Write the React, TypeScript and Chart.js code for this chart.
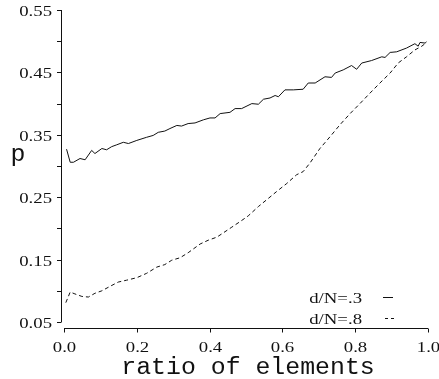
import React, { useEffect, useRef } from "react";
import { Chart, registerables } from "chart.js";

Chart.register(...registerables);

const seriesLabels = ["d/N=.3", "d/N=.8"];

const solidX = [0.007, 0.017, 0.026, 0.044, 0.058, 0.076, 0.085, 0.104, 0.117, 0.131, 0.145, 0.163, 0.177, 0.2, 0.227, 0.245, 0.259, 0.277, 0.291, 0.31, 0.323, 0.341, 0.36, 0.383, 0.401, 0.415, 0.429, 0.456, 0.47, 0.488, 0.516, 0.534, 0.548, 0.566, 0.58, 0.589, 0.607, 0.63, 0.657, 0.671, 0.69, 0.717, 0.735, 0.745, 0.767, 0.79, 0.804, 0.818, 0.845, 0.873, 0.882, 0.896, 0.914, 0.941, 0.964, 0.973, 0.978, 0.992, 0.996];
const solidY = [0.327, 0.306, 0.306, 0.312, 0.31, 0.325, 0.32, 0.328, 0.326, 0.331, 0.334, 0.338, 0.336, 0.341, 0.346, 0.349, 0.354, 0.356, 0.36, 0.365, 0.364, 0.368, 0.369, 0.374, 0.377, 0.377, 0.384, 0.386, 0.392, 0.392, 0.4, 0.399, 0.407, 0.409, 0.413, 0.411, 0.422, 0.422, 0.423, 0.433, 0.433, 0.443, 0.442, 0.449, 0.454, 0.461, 0.455, 0.465, 0.469, 0.475, 0.474, 0.482, 0.483, 0.489, 0.496, 0.492, 0.498, 0.497, 0.499];

const dashedX = [0.005, 0.017, 0.03, 0.049, 0.067, 0.085, 0.104, 0.126, 0.149, 0.172, 0.2, 0.227, 0.255, 0.277, 0.296, 0.319, 0.341, 0.374, 0.396, 0.42, 0.438, 0.461, 0.484, 0.506, 0.534, 0.557, 0.584, 0.612, 0.639, 0.657, 0.676, 0.703, 0.731, 0.758, 0.786, 0.813, 0.841, 0.868, 0.896, 0.918, 0.941, 0.964, 0.983, 0.996];
const dashedY = [0.081, 0.098, 0.095, 0.091, 0.09, 0.096, 0.1, 0.107, 0.114, 0.117, 0.121, 0.128, 0.138, 0.142, 0.149, 0.153, 0.161, 0.175, 0.181, 0.186, 0.193, 0.202, 0.211, 0.22, 0.235, 0.246, 0.259, 0.272, 0.286, 0.291, 0.305, 0.328, 0.347, 0.366, 0.384, 0.4, 0.417, 0.433, 0.449, 0.465, 0.475, 0.486, 0.492, 0.498];

const xTicks = [0, 0.2, 0.4, 0.6, 0.8, 1.0];
const xTickLabels = ["0.0", "0.2", "0.4", "0.6", "0.8", "1.0"];
const yTicks = [0.05, 0.1, 0.15, 0.2, 0.25, 0.3, 0.35, 0.4, 0.45, 0.5, 0.55];
const yTickLabels = ["0.05", "", "0.15", "", "0.25", "", "0.35", "", "0.45", "", "0.55"];
const xTitle = "ratio of elements";
const yTitle = "p";

const INK = "#111";

function stretchedText(
  ctx: CanvasRenderingContext2D,
  text: string,
  x: number,
  y: number,
  align: CanvasTextAlign,
  font: string,
  sx: number
) {
  ctx.save();
  ctx.translate(x, y);
  ctx.scale(sx, 1);
  ctx.font = font;
  ctx.textAlign = align;
  ctx.textBaseline = "alphabetic";
  ctx.fillStyle = INK;
  ctx.fillText(text, 0, 0);
  ctx.restore();
}

const axesPlugin = {
  id: "rAxes",
  afterDraw(chart: any) {
    const ctx: CanvasRenderingContext2D = chart.ctx;
    const xs = chart.scales.x;
    const ys = chart.scales.y;
    const area = chart.chartArea;
    const serif = "15px 'Liberation Serif'";
    const sx = 1.25;
    ctx.save();
    ctx.strokeStyle = INK;
    ctx.lineWidth = 1;
    ctx.setLineDash([]);

    // y axis
    const yAxisX = area.left - 2.5;
    ctx.beginPath();
    ctx.moveTo(yAxisX, ys.getPixelForValue(yTicks[0]));
    ctx.lineTo(yAxisX, ys.getPixelForValue(yTicks[yTicks.length - 1]));
    ctx.stroke();
    yTicks.forEach((v, i) => {
      const py = Math.round(ys.getPixelForValue(v)) + 0.5;
      ctx.beginPath();
      ctx.moveTo(yAxisX - 4.5, py);
      ctx.lineTo(yAxisX, py);
      ctx.stroke();
      if (yTickLabels[i]) {
        stretchedText(ctx, yTickLabels[i], yAxisX - 9.5, py + 5, "right", serif, sx);
      }
    });

    // x axis
    const xAxisY = area.bottom + 6.5;
    ctx.beginPath();
    ctx.moveTo(xs.getPixelForValue(xTicks[0]), xAxisY);
    ctx.lineTo(xs.getPixelForValue(xTicks[xTicks.length - 1]), xAxisY);
    ctx.stroke();
    xTicks.forEach((v, i) => {
      const px = Math.round(xs.getPixelForValue(v)) + 0.5;
      ctx.beginPath();
      ctx.moveTo(px, xAxisY);
      ctx.lineTo(px, xAxisY + 4);
      ctx.stroke();
      stretchedText(ctx, xTickLabels[i], px, xAxisY + 23.5, "center", serif, sx);
    });

    // titles
    const mono = "23px 'Liberation Mono'";
    stretchedText(ctx, xTitle, (area.left + area.right) / 2 + 2, 374, "center", mono, 1.08);
    stretchedText(ctx, yTitle, 18, 161, "center", mono, 1.08);

    // legend
    const legendRight = 362;
    const rows = [303, 324];
    const dashes = [[], [3, 3]];
    const sampleX = [[383, 393], [385, 396]];
    seriesLabels.forEach((lab, i) => {
      stretchedText(ctx, lab, legendRight, rows[i], "right", serif, sx);
      ctx.setLineDash(dashes[i]);
      ctx.beginPath();
      ctx.moveTo(sampleX[i][0], rows[i] - 5.5);
      ctx.lineTo(sampleX[i][1], rows[i] - 5.5);
      ctx.stroke();
    });
    ctx.restore();
  },
};

export default function App() {
  const ref = useRef<HTMLCanvasElement | null>(null);
  useEffect(() => {
    if (!ref.current) return;
    const chart = new Chart(ref.current, {
      type: "line",
      data: {
        datasets: [
          {
            label: seriesLabels[0],
            data: solidX.map((x, i) => ({ x, y: solidY[i] })),
            borderColor: INK,
            borderWidth: 1,
            pointRadius: 0,
            tension: 0,
            fill: false,
          },
          {
            label: seriesLabels[1],
            data: dashedX.map((x, i) => ({ x, y: dashedY[i] })),
            borderColor: INK,
            borderWidth: 1,
            borderDash: [4, 3],
            pointRadius: 0,
            tension: 0,
            fill: false,
          },
        ],
      },
      options: {
        animation: false,
        responsive: false,
        maintainAspectRatio: false,
        layout: { padding: { left: 64, right: 11, top: 10, bottom: 57 } },
        scales: {
          x: { type: "linear", min: 0, max: 1, display: false },
          y: { type: "linear", min: 0.05, max: 0.55, display: false },
        },
        plugins: {
          legend: { display: false },
          tooltip: { enabled: false },
        },
      },
      plugins: [axesPlugin],
    });
    return () => chart.destroy();
  }, []);
  return (
    <div style={{ position: "fixed", left: 0, top: 0, width: 439, height: 379, background: "#fff" }}>
      <canvas ref={ref} width={439} height={379} />
    </div>
  );
}
